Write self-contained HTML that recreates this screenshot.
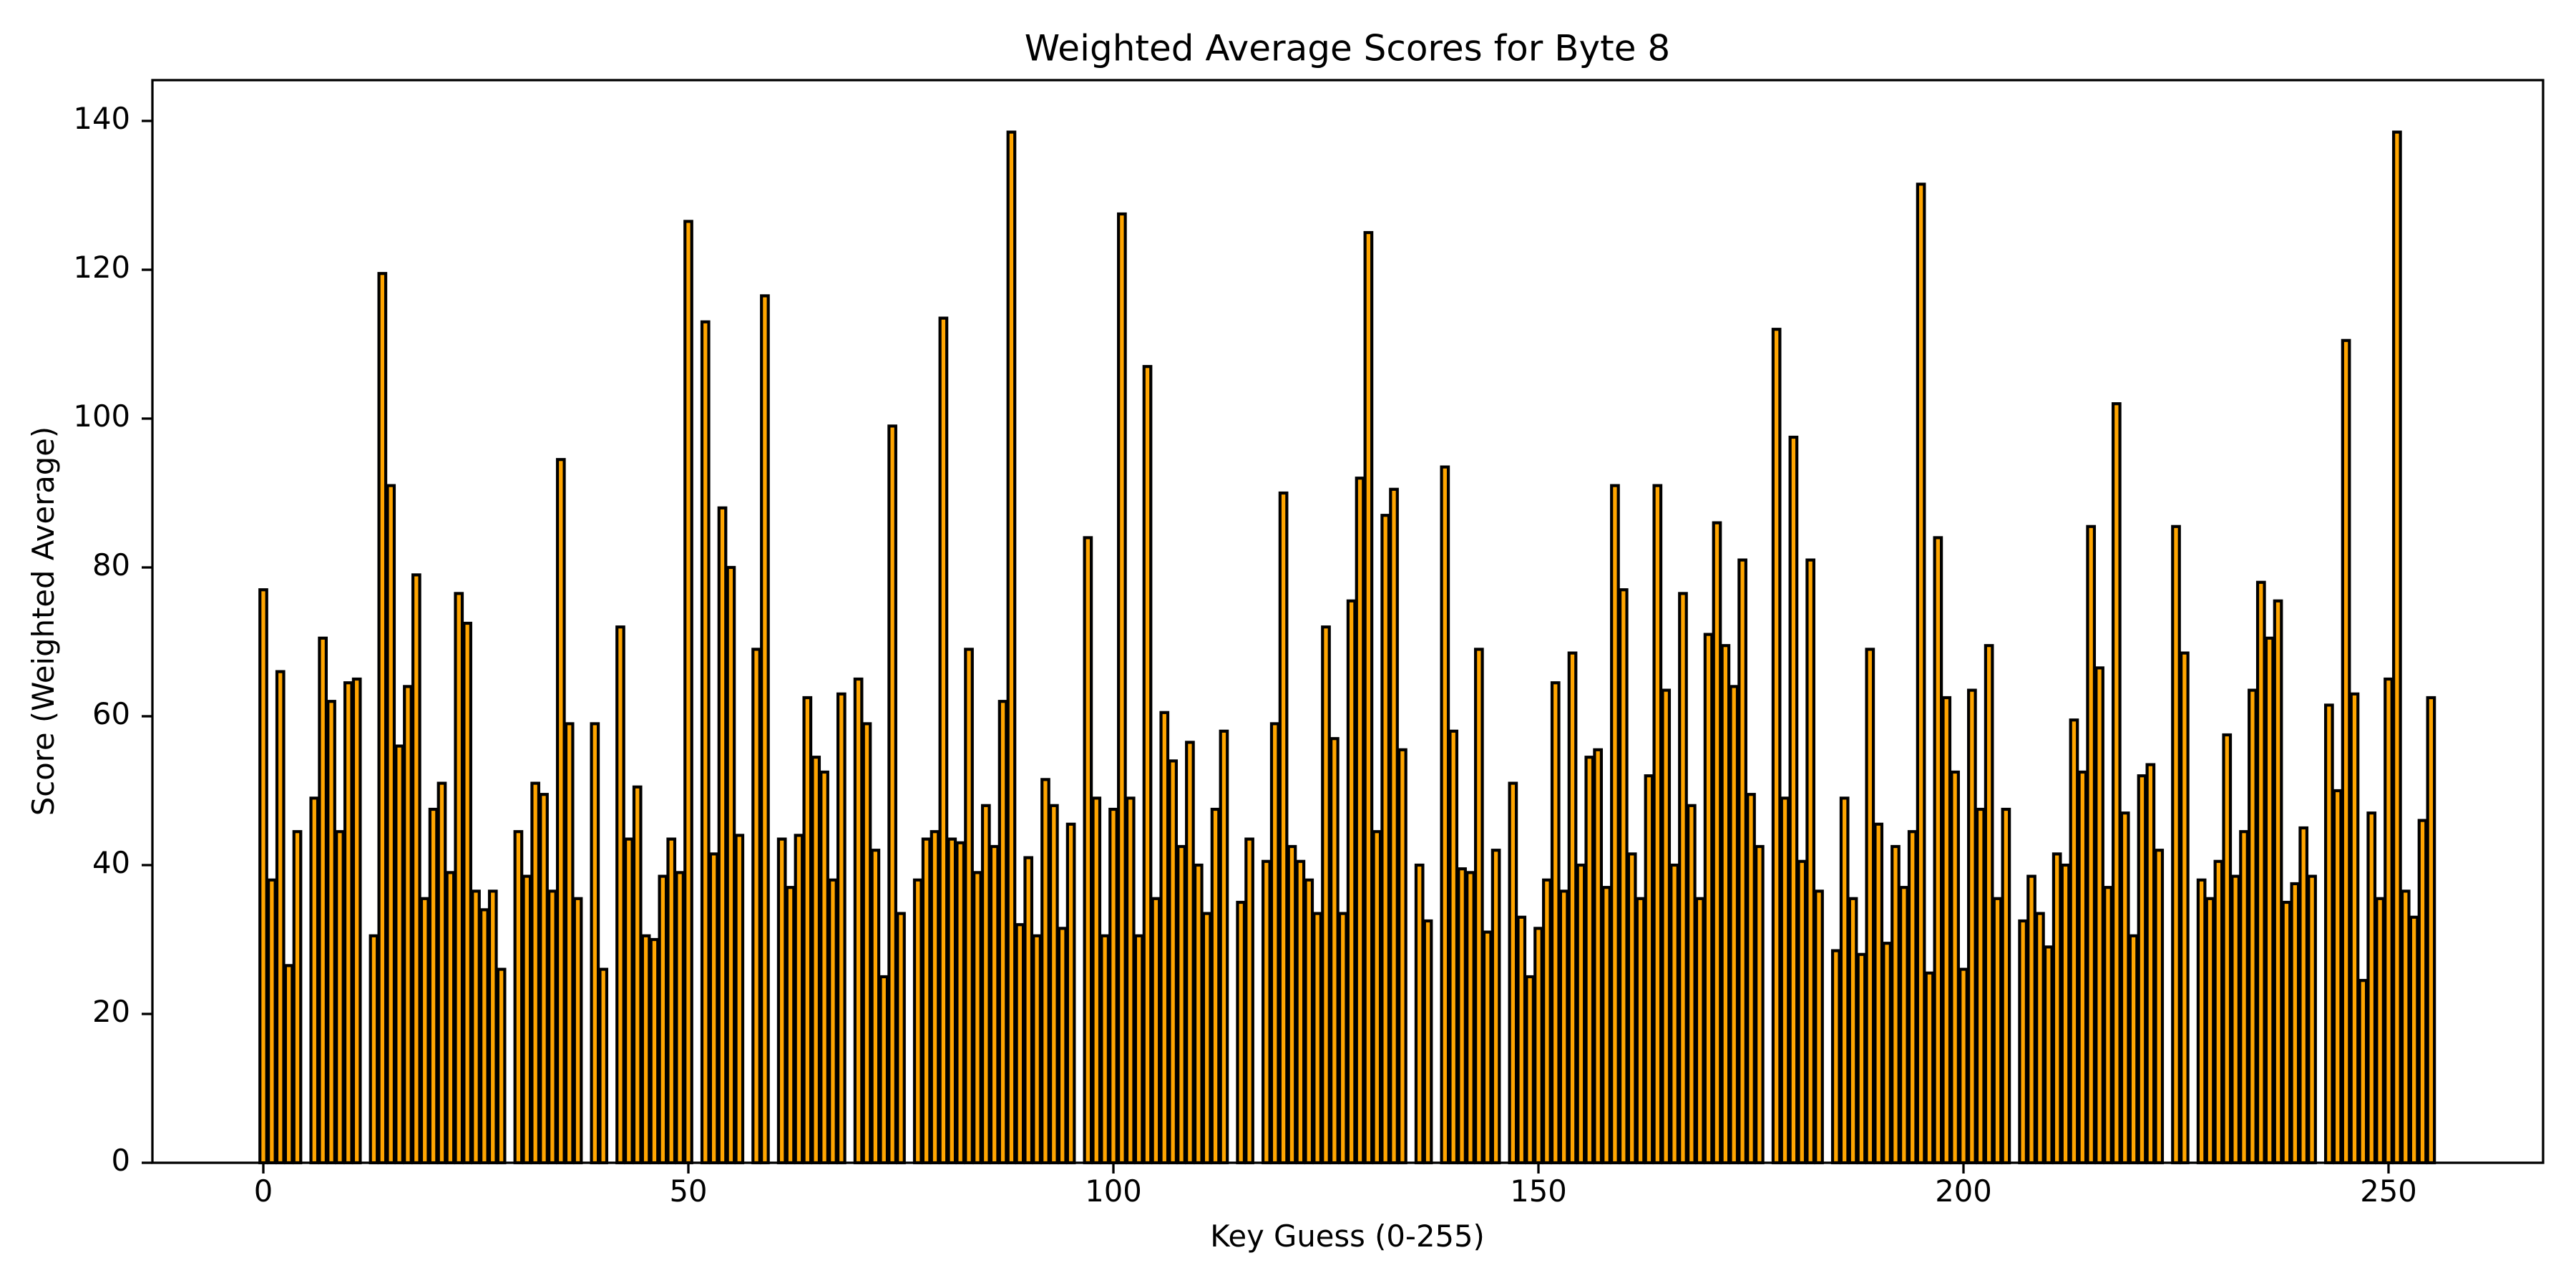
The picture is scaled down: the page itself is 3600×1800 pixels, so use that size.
<!DOCTYPE html>
<html><head><meta charset="utf-8"><style>
html,body{margin:0;padding:0;background:#fff;}
svg{display:block;font-family:"DejaVu Sans","Liberation Sans",sans-serif;}
</style></head><body>
<svg id="chart" width="3600" height="1800" viewBox="0 0 3600 1800" xmlns="http://www.w3.org/2000/svg">
<rect width="3600" height="1800" fill="#fff"/>
<text x="1883" y="71" font-size="50" text-anchor="middle" dominant-baseline="middle">Weighted Average Scores for Byte 8</text>
<text x="1883" y="1731" font-size="41.7" text-anchor="middle" dominant-baseline="middle">Key Guess (0-255)</text>
<text x="0" y="0" font-size="41.7" text-anchor="middle" dominant-baseline="middle" transform="translate(64,868) rotate(-90)">Score (Weighted Average)</text>
<g id="bars"></g>
<g id="xticks"></g>
<g id="yticks"></g>
<rect x="213" y="112" width="3341" height="1513" fill="none" stroke="#000" stroke-width="3.3"/>
</svg>
<script>
const keyGuesses = Array.from({length:256},(_,i)=>i);
const scores = [
77,38,66,26.5,44.5,0,49,70.5,62,44.5,64.5,65,0,30.5,119.5,91,56,64,79,35.5,
47.5,51,39,76.5,72.5,36.5,34,36.5,26,0,44.5,38.5,51,49.5,36.5,94.5,59,35.5,0,59,
26,0,72,43.5,50.5,30.5,30,38.5,43.5,39,126.5,0,113,41.5,88,80,44,0,69,116.5,
0,43.5,37,44,62.5,54.5,52.5,38,63,0,65,59,42,25,99,33.5,0,38,43.5,44.5,
113.5,43.5,43,69,39,48,42.5,62,138.5,32,41,30.5,51.5,48,31.5,45.5,0,84,49,30.5,
47.5,127.5,49,30.5,107,35.5,60.5,54,42.5,56.5,40,33.5,47.5,58,0,35,43.5,0,40.5,59,
90,42.5,40.5,38,33.5,72,57,33.5,75.5,92,125,44.5,87,90.5,55.5,0,40,32.5,0,93.5,
58,39.5,39,69,31,42,0,51,33,25,31.5,38,64.5,36.5,68.5,40,54.5,55.5,37,91,
77,41.5,35.5,52,91,63.5,40,76.5,48,35.5,71,86,69.5,64,81,49.5,42.5,0,112,49,
97.5,40.5,81,36.5,0,28.5,49,35.5,28,69,45.5,29.5,42.5,37,44.5,131.5,25.5,84,62.5,52.5,
26,63.5,47.5,69.5,35.5,47.5,0,32.5,38.5,33.5,29,41.5,40,59.5,52.5,85.5,66.5,37,102,47,
30.5,52,53.5,42,0,85.5,68.5,0,38,35.5,40.5,57.5,38.5,44.5,63.5,78,70.5,75.5,35,37.5,
45,38.5,0,61.5,50,110.5,63,24.5,47,35.5,65,138.5,36.5,33,46,62.5];
const xTickValues = [0,50,100,150,200,250];
const yTickValues = [0,20,40,60,80,100,120,140];

const NS="http://www.w3.org/2000/svg";
const X0=368, XU=11.88, Y0=1625, YU=10.4;
const xs=v=>X0+v*XU, ys=v=>Y0-v*YU;
const bars=document.getElementById('bars');
keyGuesses.forEach((k,i)=>{
  const v=scores[i]; if(!v) return;
  const r=document.createElementNS(NS,'rect');
  
  
  const w=0.8*XU;
  r.setAttribute('x',xs(k)-w/2); r.setAttribute('width',w);
  r.setAttribute('y',ys(v)); r.setAttribute('height',ys(0)-ys(v));
  r.setAttribute('fill','#ffa500'); r.setAttribute('stroke','#000'); r.setAttribute('stroke-width','4.2');
  bars.appendChild(r);
});
const xt=document.getElementById('xticks');
xTickValues.forEach(t=>{
  const l=document.createElementNS(NS,'line');
  
  
  l.setAttribute('x1',xs(t));l.setAttribute('x2',xs(t));l.setAttribute('y1',1625);l.setAttribute('y2',1640);
  l.setAttribute('stroke','#000');l.setAttribute('stroke-width','3.3');xt.appendChild(l);
  const s=document.createElementNS(NS,'text');
  
  
  s.setAttribute('x',xs(t));s.setAttribute('y',1668);s.setAttribute('font-size','41.7');
  s.setAttribute('text-anchor','middle');s.setAttribute('dominant-baseline','middle');
  s.textContent=t;xt.appendChild(s);
});
const yt=document.getElementById('yticks');
yTickValues.forEach(t=>{
  const l=document.createElementNS(NS,'line');
  
  
  l.setAttribute('x1',198);l.setAttribute('x2',213);l.setAttribute('y1',ys(t));l.setAttribute('y2',ys(t));
  l.setAttribute('stroke','#000');l.setAttribute('stroke-width','3.3');yt.appendChild(l);
  const s=document.createElementNS(NS,'text');
  
  
  s.setAttribute('x',182);s.setAttribute('y',ys(t));s.setAttribute('font-size','41.7');
  s.setAttribute('text-anchor','end');s.setAttribute('dominant-baseline','middle');
  s.textContent=t;yt.appendChild(s);
});
</script>
</body></html>
